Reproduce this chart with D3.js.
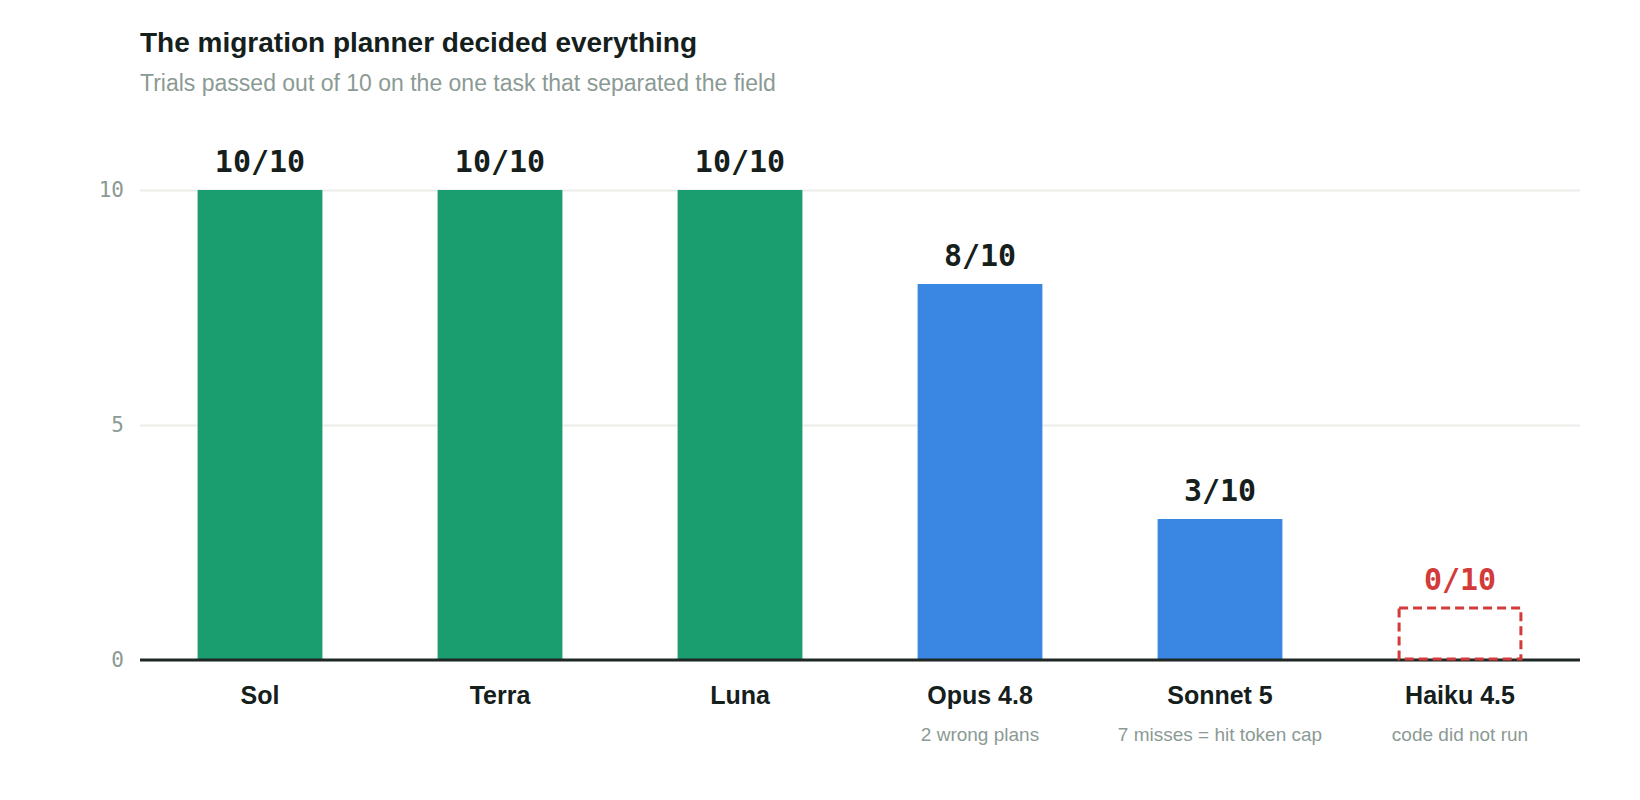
<!DOCTYPE html>
<html>
<head>
<meta charset="utf-8">
<script src="https://cdn.jsdelivr.net/npm/d3@7/dist/d3.min.js"></script>
<style>
  html, body { margin: 0; padding: 0; background: #fff; }
  svg { display: block; }
</style>
</head>
<body>
<div id="chart"></div>
<script>
// migration planner — trials passed per model, one task
const models = ['Sol', 'Terra', 'Luna', 'Opus 4.8', 'Sonnet 5', 'Haiku 4.5'];
const passed = [10, 10, 10, 8, 3, 0];
const trials = [10, 10, 10, 10, 10, 10];
const family = ['other', 'other', 'other', 'claude', 'claude', 'claude'];
const notes = ['', '', '', '2 wrong plans', '7 misses = hit token cap', 'code did not run'];
const yTicks = [0, 5, 10];

const W = 1640, H = 800;
const MARGIN = { top: 190, right: 60, bottom: 140, left: 140 };
const COLORS = { other: '#1a9e70', claude: '#3987e3', zero: '#d33b3b' };
const INK = '#15201c', MUTED = '#8b9a94';
const SANS = '"Liberation Sans", Arial, sans-serif';
const MONO = '"DejaVu Sans Mono", monospace';
const STUB_H = 52; // placeholder box for a zero score

const svg = d3.select('#chart').append('svg')
  .attr('width', W).attr('height', H)
  .attr('viewBox', `0 0 ${W} ${H}`);

svg.append('text')
  .attr('x', 140).attr('y', 52)
  .style('font-family', SANS).style('font-size', '28px').style('font-weight', 700)
  .style('fill', INK)
  .text('The migration planner decided everything');

svg.append('text')
  .attr('x', 140).attr('y', 91)
  .style('font-family', SANS).style('font-size', '23px')
  .style('fill', MUTED)
  .text('Trials passed out of 10 on the one task that separated the field');

const x = d3.scaleBand()
  .domain(models)
  .range([MARGIN.left, W - MARGIN.right])
  .paddingInner(0.48).paddingOuter(0.24);

const y = d3.scaleLinear()
  .domain([0, 10])
  .range([H - MARGIN.bottom, MARGIN.top]);

// gridlines + tick labels
const yAxis = svg.append('g')
  .attr('transform', `translate(${MARGIN.left},0)`)
  .call(d3.axisLeft(y).tickValues(yTicks).tickSize(-(W - MARGIN.left - MARGIN.right)).tickPadding(16));
yAxis.select('.domain').remove();
yAxis.selectAll('.tick line').attr('stroke', '#ecede8').attr('stroke-width', 2);
yAxis.selectAll('.tick text')
  .style('font-family', MONO).style('font-size', '21px').style('fill', MUTED);

const rows = models.map((m, i) => ({
  model: m, value: passed[i], total: trials[i], family: family[i], note: notes[i]
}));

// bars
svg.append('g').selectAll('rect')
  .data(rows.filter(d => d.value > 0))
  .join('rect')
  .attr('x', d => x(d.model))
  .attr('width', x.bandwidth())
  .attr('y', d => y(d.value))
  .attr('height', d => y(0) - y(d.value))
  .attr('fill', d => COLORS[d.family]);

// baseline
svg.append('line')
  .attr('x1', MARGIN.left).attr('x2', W - MARGIN.right)
  .attr('y1', y(0)).attr('y2', y(0))
  .attr('stroke', '#1e2926').attr('stroke-width', 3);

// zero-score placeholder
svg.append('g').selectAll('rect')
  .data(rows.filter(d => d.value === 0))
  .join('rect')
  .attr('x', d => x(d.model) + 1.5)
  .attr('width', x.bandwidth() - 3)
  .attr('y', y(0) - STUB_H)
  .attr('height', STUB_H - 1)
  .attr('fill', 'none')
  .attr('stroke', COLORS.zero).attr('stroke-width', 3)
  .attr('stroke-dasharray', '9 5');

// value labels
svg.append('g').selectAll('text')
  .data(rows)
  .join('text')
  .attr('x', d => x(d.model) + x.bandwidth() / 2)
  .attr('y', d => (d.value > 0 ? y(d.value) : y(0) - STUB_H) - 18)
  .attr('text-anchor', 'middle')
  .style('font-family', MONO).style('font-size', '30px').style('font-weight', 700)
  .style('fill', d => d.value > 0 ? INK : COLORS.zero)
  .text(d => `${d.value}/${d.total}`);

// category labels
svg.append('g').selectAll('text')
  .data(rows)
  .join('text')
  .attr('x', d => x(d.model) + x.bandwidth() / 2)
  .attr('y', y(0) + 44)
  .attr('text-anchor', 'middle')
  .style('font-family', SANS).style('font-size', '25px').style('font-weight', 700)
  .style('fill', INK)
  .text(d => d.model);

svg.append('g').selectAll('text')
  .data(rows.filter(d => d.note))
  .join('text')
  .attr('x', d => x(d.model) + x.bandwidth() / 2)
  .attr('y', y(0) + 81)
  .attr('text-anchor', 'middle')
  .style('font-family', SANS).style('font-size', '19px')
  .style('fill', MUTED)
  .text(d => d.note);
</script>
</body>
</html>
